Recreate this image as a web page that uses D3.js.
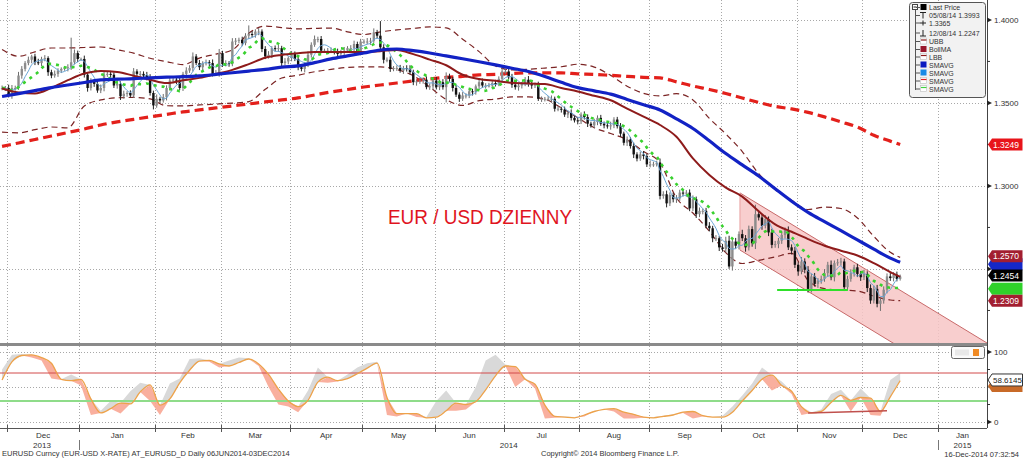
<!DOCTYPE html>
<html><head><meta charset="utf-8">
<script src="https://cdn.jsdelivr.net/npm/d3@7"></script>
<style>
body{margin:0;background:#fff;}
svg{display:block;font-family:"Liberation Sans",Arial,sans-serif;}
</style></head><body>
<svg id="c" width="1023" height="462"></svg>
<script>
// ---------------- DATA ----------------
const startDate = "2013-11-28"; // first trading day shown (weekday calendar)
// daily closes EURUSD (one per weekday)
const closes = [
1.3590,1.3590,1.3545,1.3590,1.3590,1.3665,1.3705,1.3740,1.3760,1.3780,
1.3745,1.3740,1.3765,1.3770,1.3685,1.3665,1.3675,1.3695,1.3705,1.3710,
1.3715,1.3745,1.3800,1.3765,1.3765,1.3670,1.3590,1.3630,1.3615,1.3575,
1.3590,1.3670,1.3675,1.3670,1.3605,1.3615,1.3540,1.3555,1.3560,1.3545,
1.3690,1.3675,1.3675,1.3665,1.3655,1.3560,1.3485,1.3525,1.3515,1.3535,
1.3590,1.3635,1.3640,1.3635,1.3590,1.3675,1.3695,1.3710,1.3780,1.3740,
1.3715,1.3740,1.3745,1.3740,1.3675,1.3680,1.3800,1.3735,1.3740,1.3735,
1.3870,1.3875,1.3880,1.3860,1.3905,1.3915,1.3910,1.3930,1.3930,1.3825,
1.3780,1.3790,1.3830,1.3825,1.3830,1.3740,1.3750,1.3770,1.3795,1.3765,
1.3715,1.3705,1.3730,1.3790,1.3850,1.3885,1.3885,1.3815,1.3815,1.3815,
1.3815,1.3810,1.3795,1.3805,1.3815,1.3830,1.3830,1.3855,1.3805,1.3870,
1.3870,1.3870,1.3875,1.3925,1.3905,1.3835,1.3760,1.3760,1.3705,1.3710,
1.3710,1.3695,1.3710,1.3705,1.3685,1.3625,1.3630,1.3635,1.3640,1.3595,
1.3600,1.3635,1.3595,1.3625,1.3595,1.3660,1.3645,1.3590,1.3550,1.3525,
1.3545,1.3545,1.3570,1.3565,1.3600,1.3625,1.3605,1.3605,1.3605,1.3620,
1.3615,1.3645,1.3690,1.3690,1.3655,1.3610,1.3595,1.3605,1.3615,1.3640,
1.3615,1.3605,1.3610,1.3525,1.3525,1.3525,1.3525,1.3525,1.3465,1.3465,
1.3460,1.3430,1.3440,1.3410,1.3395,1.3390,1.3430,1.3415,1.3375,1.3365,
1.3385,1.3410,1.3375,1.3365,1.3360,1.3365,1.3400,1.3360,1.3315,1.3260,
1.3280,1.3240,1.3190,1.3165,1.3190,1.3180,1.3130,1.3130,1.3130,1.3140,
1.2940,1.2950,1.2895,1.2945,1.2920,1.2925,1.2960,1.2955,1.2960,1.2865,
1.2920,1.2830,1.2850,1.2850,1.2760,1.2745,1.2685,1.2685,1.2630,1.2620,
1.2670,1.2515,1.2665,1.2640,1.2710,1.2685,1.2630,1.2740,1.2655,1.2830,
1.2810,1.2760,1.2800,1.2720,1.2645,1.2650,1.2670,1.2705,1.2735,1.2630,
1.2610,1.2525,1.2485,1.2545,1.2495,1.2380,1.2455,1.2410,1.2430,1.2440,
1.2475,1.2525,1.2450,1.2535,1.2540,1.2545,1.2390,1.2440,1.2475,1.2510,
1.2470,1.2450,1.2470,1.2385,1.2310,1.2380,1.2290,1.2310,1.2375,1.2455,
1.2445,1.2465,1.2440,1.2454];
// upper / lower wick length beyond the body, in pips
const upperWickPips = [
15,12,20,18,14,22,17,12,19,10,16,21,13,18,11,15,20,14,9,12,
18,148,22,15,8,20,14,19,13,17,21,16,12,18,14,23,15,19,11,16,
20,13,17,15,22,18,14,26,12,19,16,21,13,18,15,12,20,17,24,14,
19,11,16,13,22,18,25,14,17,12,20,16,13,19,15,52,18,14,21,13,
17,22,12,16,19,14,20,11,18,15,23,13,17,20,15,21,14,18,12,16,
19,13,17,15,22,12,18,20,14,16,13,21,17,24,15,88,18,14,20,12,
16,19,13,17,22,15,11,18,14,20,17,13,21,15,18,24,16,12,19,14,
20,13,17,15,11,18,22,14,16,12,19,15,21,13,17,20,14,18,12,16,
22,15,13,18,14,11,17,20,13,16,12,18,15,21,14,17,13,19,16,12,
20,15,18,13,17,22,14,16,19,12,18,15,21,13,17,20,14,24,16,12,
25,18,22,16,14,20,17,21,15,19,23,16,20,14,18,22,15,19,13,21,
24,30,18,22,16,26,19,21,17,57,20,18,25,16,22,19,17,24,15,21,
18,23,16,27,19,22,17,21,15,20,24,18,26,16,20,22,17,19,23,15,
21,18,25,16,22,19,24,17,20,18,22,16,19,12];
const lowerWickPips = [
14,18,12,20,16,11,19,15,13,21,17,12,19,14,22,16,13,18,15,11,
20,16,13,19,12,17,22,15,18,14,16,20,13,17,15,19,22,14,18,12,
15,21,17,13,19,16,24,14,18,13,20,15,17,22,13,18,16,14,21,12,
17,19,14,20,16,13,22,18,15,17,14,21,16,18,13,20,15,17,22,19,
16,13,20,15,18,21,14,17,19,13,18,15,21,14,17,12,20,16,13,19,
15,18,13,17,21,14,16,19,12,18,14,17,20,13,16,19,22,15,18,14,
17,13,20,16,14,18,21,15,19,13,16,20,14,18,15,92,17,21,14,19,
13,18,16,20,15,17,14,19,12,18,16,14,20,17,13,19,15,21,18,14,
17,20,15,13,19,16,14,22,17,15,18,14,21,16,13,19,17,15,20,14,
16,19,13,18,15,21,17,14,20,16,19,15,22,17,14,20,16,18,15,13,
21,17,24,16,19,22,15,18,20,17,16,23,18,21,15,19,24,17,22,16,
20,14,25,18,22,17,26,19,21,35,18,24,16,22,20,17,25,19,21,16,
23,19,26,17,21,22,22,16,24,19,17,22,18,25,16,20,23,19,17,21,
19,22,17,24,20,18,21,43,19,22,17,20,15,10];
// indicator lines read every 5 trading days (day 0,5,...,270) plus last day 273
const sma200 = [1.3238,1.3259,1.3280,1.3301,1.3322,1.3343,1.3367,1.3386,1.3401,1.3416,
1.3431,1.3446,1.3458,1.3470,1.3482,1.3494,1.3506,1.3518,1.3530,1.3548,
1.3566,1.3581,1.3596,1.3608,1.3620,1.3633,1.3645,1.3654,1.3660,1.3669,
1.3672,1.3678,1.3681,1.3681,1.3681,1.3675,1.3672,1.3666,1.3660,1.3654,
1.3651,1.3627,1.3602,1.3581,1.3557,1.3530,1.3503,1.3479,1.3464,1.3443,
1.3416,1.3386,1.3355,1.3305,1.3270,1.3249];
const sma50 = [1.3539,1.3556,1.3574,1.3592,1.3608,1.3623,1.3639,1.3643,1.3646,1.3651,
1.3655,1.3658,1.3663,1.3672,1.3682,1.3692,1.3702,1.3716,1.3723,1.3743,
1.3765,1.3783,1.3801,1.3819,1.3825,1.3815,1.3801,1.3783,1.3766,1.3748,
1.3729,1.3709,1.3689,1.3659,1.3624,1.3592,1.3573,1.3553,1.3521,1.3489,
1.3458,1.3404,1.3346,1.3272,1.3195,1.3127,1.3060,1.2983,1.2908,1.2841,
1.2785,1.2731,1.2675,1.2619,1.2565,1.2540];
const bollMA = [1.3587,1.3563,1.3557,1.3591,1.3637,1.3677,1.3693,1.3687,1.3664,1.3640,
1.3620,1.3636,1.3651,1.3674,1.3699,1.3734,1.3772,1.3789,1.3799,1.3807,
1.3807,1.3807,1.3807,1.3812,1.3819,1.3794,1.3761,1.3727,1.3670,1.3644,
1.3633,1.3621,1.3617,1.3614,1.3590,1.3569,1.3543,1.3516,1.3466,1.3417,
1.3367,1.3296,1.3166,1.3066,1.2990,1.2936,1.2847,1.2769,1.2724,1.2680,
1.2640,1.2610,1.2581,1.2535,1.2481,1.2452];
const upperBB = [1.3822,1.3781,1.3808,1.3831,1.3831,1.3834,1.3837,1.3820,1.3800,1.3769,
1.3749,1.3731,1.3770,1.3794,1.3819,1.3920,1.3963,1.3954,1.3946,1.3949,
1.3951,1.3928,1.3912,1.3928,1.3940,1.3949,1.3958,1.3952,1.3884,1.3809,
1.3723,1.3699,1.3703,1.3710,1.3718,1.3733,1.3716,1.3666,1.3601,1.3558,
1.3542,1.3556,1.3518,1.3407,1.3313,1.3207,1.3074,1.2979,1.2914,1.2858,
1.2872,1.2864,1.2807,1.2696,1.2600,1.2570];
const lowerBB = [1.3324,1.3320,1.3339,1.3355,1.3350,1.3482,1.3518,1.3531,1.3533,1.3524,
1.3483,1.3482,1.3488,1.3493,1.3499,1.3508,1.3582,1.3650,1.3667,1.3688,
1.3702,1.3714,1.3717,1.3717,1.3701,1.3664,1.3595,1.3521,1.3485,1.3514,
1.3523,1.3536,1.3536,1.3523,1.3470,1.3411,1.3351,1.3316,1.3277,1.3207,
1.3139,1.2928,1.2837,1.2727,1.2598,1.2533,1.2552,1.2572,1.2594,1.2431,
1.2381,1.2373,1.2367,1.2337,1.2313,1.2309];
// oscillator (lower panel), read every 3 trading days (day 0,3,...,273)
const oscSlow = [60,86,95,96,92,84,61,59,61,33,13,19,27,26,43,53,24,33,56,74,
87,88,83,80,85,90,83,68,47,30,22,31,57,64,59,62,69,77,84,35,
12,12,12,6,7,16,27,25,29,46,66,80,79,61,54,24,8,7,6,10,
15,18,19,14,11,7,6,8,10,14,15,9,7,7,14,30,45,61,67,52,
44,22,13,15,28,38,31,35,34,15,36,59];
const oscFast = [75,96,97,92,88,62,60,68,52,10,16,30,12,44,56,30,10,55,62,90,
91,86,78,88,92,91,80,50,25,22,14,45,78,56,58,68,78,84,86,10,
8,12,7,7,30,45,16,18,50,88,96,82,50,63,48,5,6,8,7,8,
16,18,15,5,5,6,7,9,11,13,5,8,7,9,22,38,55,78,45,58,
40,10,14,18,40,46,15,48,10,9,60,70];
const oscLevels = [70, 30];
const oscLast = 58.6145;
// drawn annotations: [day, price]
const channelTop = [[224.3, 1.2958], [299.4, 1.2054]];
const channelBottom = [[224.3, 1.2614], [299.4, 1.1710]];
const supportLine = [[235.6, 1.2373], [257.1, 1.2373]];
const oscTrend = [[245, 13], [269, 16]];
const priceTicks = [1.40, 1.35, 1.30, 1.25];
const priceMinor = [1.375, 1.325, 1.275, 1.225];
const oscTicks = [100, 50, 0];
const legendRows = ["Last Price","05/08/14 1.3993","1.3365","12/08/14 1.2247","UBB","BollMA","LBB","SMAVG","SMAVG","SMAVG","SMAVG"];
const title = "EUR / USD DZIENNY";
const footLeft = "EURUSD Curncy (EUR-USD X-RATE) AT_EURUSD_D  Daily 06JUN2014-03DEC2014";
const footMid = "Copyright\u00A9 2014 Bloomberg Finance L.P.";
const footRight = "16-Dec-2014 07:32:54";
const monthNames = ["Jan","Feb","Mar","Apr","May","Jun","Jul","Aug","Sep","Oct","Nov","Dec"];

// ---------------- LAYOUT ----------------
const svg = d3.select("#c");
const PR = 987, MT = 0, MB = 343, LT = 346, LB = 428;
const days = [];
{ let d = new Date(startDate + "T00:00:00Z");
  while (days.length < 320) { const w = d.getUTCDay(); if (w !== 0 && w !== 6) days.push(new Date(d)); d = new Date(d.getTime() + 864e5); } }
const mStarts = [];
days.forEach((t, i) => { if (i > 0 && t.getUTCMonth() !== days[i-1].getUTCMonth()) mStarts.push({i, t}); });
const jan15 = mStarts.find(m => m.t.getUTCFullYear() === 2015);
const x = d3.scaleLinear().domain([mStarts[0].i - 0.5, jan15.i - 0.5]).range([7, 938]);
const y = d3.scaleLinear().domain([1.2054, 1.412]).range([MB, MT]);
const yo = d3.scaleLinear().domain([0, 100]).range([422, 352]);
const last = a => a[a.length - 1];

const defs = svg.append("defs");
defs.append("clipPath").attr("id", "cm").append("rect").attr("x", 0).attr("y", MT).attr("width", PR).attr("height", MB - MT);
defs.append("clipPath").attr("id", "cl").append("rect").attr("x", 0).attr("y", LT).attr("width", PR).attr("height", LB - LT);

// grid
const grid = svg.append("g").attr("stroke", "#a8a8a8").attr("stroke-dasharray", "1,2").attr("stroke-width", 1);
mStarts.filter(m => x(m.i - 0.5) < PR).forEach(m => {
  const xx = Math.round(x(m.i - 0.5)) + 0.5;
  grid.append("line").attr("x1", xx).attr("x2", xx).attr("y1", MT).attr("y2", MB);
  grid.append("line").attr("x1", xx).attr("x2", xx).attr("y1", LT).attr("y2", LB);
});
priceTicks.forEach(p => grid.append("line").attr("x1", 0).attr("x2", PR).attr("y1", Math.round(y(p)) + 0.5).attr("y2", Math.round(y(p)) + 0.5));
oscTicks.forEach(v => grid.append("line").attr("x1", 0).attr("x2", PR).attr("y1", Math.round(yo(v)) + 0.5).attr("y2", Math.round(yo(v)) + 0.5));

// ---------- main panel ----------
const main = svg.append("g").attr("clip-path", "url(#cm)");
const chPoly = channelTop.concat(channelBottom.slice().reverse());
main.append("path").attr("d", "M" + chPoly.map(p => [x(p[0]), y(p[1])].join(",")).join("L") + "Z")
  .attr("fill", "#f7c6c6").attr("fill-opacity", 0.85).attr("stroke", "none");
[channelTop, channelBottom].forEach(l => main.append("line").attr("x1", x(l[0][0])).attr("y1", y(l[0][1])).attr("x2", x(l[1][0])).attr("y2", y(l[1][1])).attr("stroke", "#c86a6a").attr("stroke-width", 1));
main.append("line").attr("x1", x(channelTop[0][0])).attr("y1", y(channelTop[0][1])).attr("x2", x(channelBottom[0][0])).attr("y2", y(channelBottom[0][1])).attr("stroke", "#e8a0a0").attr("stroke-width", 1);

const maDays = d3.range(0, 271, 5).concat([273]);
const lineFrom = (arr, idx) => d3.line().curve(d3.curveMonotoneX).x((d, k) => x(idx[k])).y(d => y(d))(arr);
[upperBB, lowerBB].forEach(a => main.append("path").attr("d", lineFrom(a, maDays)).attr("fill", "none").attr("stroke", "#7b2424").attr("stroke-width", 1.2).attr("stroke-dasharray", "6,4"));
main.append("path").attr("d", lineFrom(sma200, maDays)).attr("fill", "none").attr("stroke", "#e3201b").attr("stroke-width", 3.2).attr("stroke-dasharray", "9,5");

// candles
const cg = main.append("g");
closes.forEach((c, i) => {
  const o = i > 0 ? closes[i-1] : c;
  const hi = Math.max(o, c) + upperWickPips[i] / 10000, lo = Math.min(o, c) - lowerWickPips[i] / 10000;
  const up = c >= o;
  const xc = x(i);
  cg.append("line").attr("x1", xc).attr("x2", xc).attr("y1", y(hi)).attr("y2", y(lo)).attr("stroke", up ? "#6e6e6e" : "#222").attr("stroke-width", 1);
  const yt = y(Math.max(o, c)), yb = y(Math.min(o, c));
  cg.append("rect").attr("x", xc - 1.2).attr("width", 2.4).attr("y", yt).attr("height", Math.max(1, yb - yt)).attr("fill", up ? "#8c8c8c" : "#111");
});
// short SMAs computed from closes
const sma = n => closes.map((c, i) => d3.mean(closes.slice(Math.max(0, i - n + 1), i + 1)));
const sma5 = sma(5), sma10 = sma(10);
const dline = d3.line().curve(d3.curveMonotoneX).x((d, i) => x(i)).y(d => y(d));
main.append("path").attr("d", dline(sma5)).attr("fill", "none").attr("stroke", "#6aa6d6").attr("stroke-width", 1);
main.append("path").attr("d", dline(sma10)).attr("fill", "none").attr("stroke", "#39d12f").attr("stroke-width", 2.6).attr("stroke-dasharray", "3,5");
main.append("path").attr("d", lineFrom(bollMA, maDays)).attr("fill", "none").attr("stroke", "#8e1b1b").attr("stroke-width", 2);
main.append("path").attr("d", lineFrom(sma50, maDays)).attr("fill", "none").attr("stroke", "#1222c4").attr("stroke-width", 3.2);
main.append("line").attr("x1", x(supportLine[0][0])).attr("x2", x(supportLine[1][0])).attr("y1", y(supportLine[0][1])).attr("y2", y(supportLine[1][1])).attr("stroke", "#2fe02a").attr("stroke-width", 2);

svg.append("text").attr("x", 388).attr("y", 224).attr("fill", "#e0141e").attr("font-size", 21).attr("textLength", 184).attr("lengthAdjust", "spacingAndGlyphs").text(title);

// ---------- lower panel ----------
const low = svg.append("g").attr("clip-path", "url(#cl)");
const oscDays = d3.range(0, 274, 3);
const pts = oscSlow.map((v, k) => ({d: oscDays[k], s: v, f: oscFast[k]}));
low.append("path").attr("d", d3.area().x(p => x(p.d)).y0(p => yo(p.s)).y1(p => yo(Math.max(p.s, p.f)))(pts)).attr("fill", "#d9d9d9");
low.append("path").attr("d", d3.area().x(p => x(p.d)).y0(p => yo(p.s)).y1(p => yo(Math.min(p.s, p.f)))(pts)).attr("fill", "#f8a693").attr("fill-opacity", 0.9);
low.append("line").attr("x1", 0).attr("x2", PR).attr("y1", yo(oscLevels[0])).attr("y2", yo(oscLevels[0])).attr("stroke", "#d24a4a").attr("stroke-width", 1);
low.append("line").attr("x1", 0).attr("x2", PR).attr("y1", yo(oscLevels[1])).attr("y2", yo(oscLevels[1])).attr("stroke", "#8fdc8a").attr("stroke-width", 2);
low.append("path").attr("d", d3.line().curve(d3.curveMonotoneX).x(p => x(p.d)).y(p => yo(p.s))(pts)).attr("fill", "none").attr("stroke", "#eda24a").attr("stroke-width", 1.3);
low.append("line").attr("x1", x(oscTrend[0][0])).attr("x2", x(oscTrend[1][0])).attr("y1", yo(oscTrend[0][1])).attr("y2", yo(oscTrend[1][1])).attr("stroke", "#c0504d").attr("stroke-width", 1.5);

// separators / axes
svg.append("rect").attr("x", 0).attr("y", MB).attr("width", PR).attr("height", 3).attr("fill", "#8a8a8a");
svg.append("line").attr("x1", PR + 0.5).attr("x2", PR + 0.5).attr("y1", 0).attr("y2", LB).attr("stroke", "#444");
svg.append("line").attr("x1", 0).attr("x2", PR).attr("y1", LB + 0.5).attr("y2", LB + 0.5).attr("stroke", "#555");
const ax = svg.append("g").attr("font-size", 8).attr("fill", "#333");
const tri = yy => `M${PR},${yy - 2.5}L${PR + 5},${yy}L${PR},${yy + 2.5}Z`;
// flag positions, used to leave out axis labels that the flags cover (as in the reference)
const flagYs = [y(last(sma200)), y(last(sma50)) + 2, y(last(upperBB)) - 1, y(last(sma10)) + 2, y(last(closes)) - 1, y(last(lowerBB))];
priceTicks.forEach(p => { const yy = y(p);
  ax.append("path").attr("d", tri(yy)).attr("fill", "#222");
  if (!flagYs.some(f => Math.abs(f - yy) < 12)) ax.append("text").attr("x", PR + 7).attr("y", yy + 3).text(p.toFixed(4)); });
priceMinor.forEach(p => ax.append("line").attr("x1", PR).attr("x2", PR + 3).attr("y1", y(p)).attr("y2", y(p)).attr("stroke", "#333"));
[100, 0].forEach(v => { const yy = yo(v);
  ax.append("path").attr("d", tri(yy)).attr("fill", "#222");
  ax.append("text").attr("x", PR + 7).attr("y", yy + 3).text(v); });
[75, 50, 25].forEach(v => ax.append("line").attr("x1", PR).attr("x2", PR + 3).attr("y1", yo(v)).attr("y2", yo(v)).attr("stroke", "#333"));

// month ticks & labels
mStarts.filter(m => x(m.i - 0.5) < PR + 1).forEach(m => {
  const x0 = x(m.i - 0.5);
  const nxt = mStarts[mStarts.indexOf(m) + 1];
  const x1 = Math.min(x(nxt.i - 0.5), PR);
  ax.append("line").attr("x1", Math.round(x0) + 0.5).attr("x2", Math.round(x0) + 0.5).attr("y1", LB - 3).attr("y2", LB + 4).attr("stroke", "#555");
  ax.append("text").attr("x", (x0 + x1) / 2).attr("y", 438).attr("text-anchor", "middle").text(monthNames[m.t.getUTCMonth()]);
});
const yearLabels = [{t: "2013", a: 0, b: x(mStarts[1].i - 0.5)}, {t: "2014", a: x(mStarts[1].i - 0.5), b: x(jan15.i - 0.5)}, {t: "2015", a: x(jan15.i - 0.5), b: PR}];
yearLabels.forEach(yl => ax.append("text").attr("x", yl.t === "2013" ? 42 : (yl.a + yl.b) / 2).attr("y", 448).attr("text-anchor", "middle").text(yl.t));
[mStarts[1], jan15].forEach(m => { const xx = Math.round(x(m.i - 0.5)) + 0.5; ax.append("line").attr("x1", xx).attr("x2", xx).attr("y1", 440).attr("y2", 450).attr("stroke", "#777"); });
ax.append("text").attr("x", 2).attr("y", 456).attr("font-size", 7.5).text(footLeft);
ax.append("text").attr("x", 541).attr("y", 456).attr("font-size", 7.5).text(footMid);
ax.append("text").attr("x", 1019).attr("y", 457).attr("font-size", 7.5).attr("text-anchor", "end").text(footRight);

// value flags (hidden ones have no text, like in the reference where they sit under others)
function flag(val, yy, bg, fg, stroke, fs) {
  const g = svg.append("g");
  g.append("path").attr("d", `M${PR + 1},${yy}L${PR + 5},${yy - 6}H1022.5V${yy + 6}H${PR + 5}Z`).attr("fill", bg).attr("stroke", stroke || "none");
  if (val) g.append("text").attr("x", PR + 6).attr("y", yy + 3).attr("font-size", fs || 8.5).attr("fill", fg).text(val);
}
flag(last(sma200).toFixed(4), flagYs[0], "#e8141a", "#fff");
flag("", flagYs[1], "#1428c8", "#fff");
flag(last(upperBB).toFixed(4), flagYs[2], "#a21e30", "#fff");
flag("", flagYs[3], "#2fd12a", "#fff");
flag(last(closes).toFixed(4), flagYs[4], "#000", "#fff");
flag(last(lowerBB).toFixed(4), flagYs[5], "#a21e30", "#fff");
flag("", yo(oscLast) + 5, "#c86a28", "#fff");
flag(oscLast.toFixed(4), yo(oscLast) - 1, "#fff", "#222", "#333", 8);

// legend (top right)
const lg = svg.append("g").attr("font-size", 7).attr("fill", "#333");
lg.append("rect").attr("x", 909.5).attr("y", 2.5).attr("width", 76).attr("height", 95).attr("rx", 3).attr("fill", "#f2f2f2").attr("stroke", "#555");
lg.append("line").attr("x1", 915.5).attr("x2", 915.5).attr("y1", 10).attr("y2", 90).attr("stroke", "#555");
lg.append("rect").attr("x", 912.5).attr("y", 4.5).attr("width", 5).attr("height", 5).attr("fill", "#fff").attr("stroke", "#444");
lg.append("line").attr("x1", 913.5).attr("x2", 916.5).attr("y1", 7).attr("y2", 7).attr("stroke", "#222");
const rowY = [7.5, 15.5, 23, 33, 41.5, 49.5, 57, 65, 73, 81, 89];
const icons = ["#000", "T", "+", "L", "dash#8b1a1a", "#98162a", "dash#8b1a1a", "#0a1ac0", "#1a8ae6", "dash#e02020", "dot#40d040"];
legendRows.forEach((t, k) => {
  const yy = rowY[k];
  lg.append("line").attr("x1", 916).attr("x2", 920).attr("y1", yy).attr("y2", yy).attr("stroke", "#555");
  const ic = icons[k];
  if (ic === "T") lg.append("path").attr("d", `M920,${yy-3}H926M923,${yy-3}V${yy+3}`).attr("stroke", "#222").attr("fill", "none");
  else if (ic === "+") lg.append("path").attr("d", `M920,${yy}H926M923,${yy-2.5}V${yy+2.5}`).attr("stroke", "#222").attr("fill", "none");
  else if (ic === "L") lg.append("path").attr("d", `M920,${yy+3}H926M923,${yy-3}V${yy+3}`).attr("stroke", "#222").attr("fill", "none");
  else if (ic.startsWith("dash") || ic.startsWith("dot")) {
    const c = ic.replace(/^(dash|dot)/, "");
    lg.append("rect").attr("x", 920.5).attr("y", yy - 3.5).attr("width", 6).attr("height", 6).attr("fill", "#fff").attr("stroke", "#bbb").attr("stroke-width", 0.6);
    lg.append("line").attr("x1", 921).attr("x2", 926.5).attr("y1", yy - 1.5).attr("y2", yy - 1.5).attr("stroke", c).attr("stroke-width", 1.2);
  } else lg.append("rect").attr("x", 920.5).attr("y", yy - 3.5).attr("width", 6).attr("height", 6).attr("fill", ic);
  lg.append("text").attr("x", 929).attr("y", yy + 2.5).text(t);
});
svg.append("rect").attr("x", 951.5).attr("y", 346.5).attr("width", 33).attr("height", 12).attr("rx", 2).attr("fill", "#fafafa").attr("stroke", "#666");
svg.append("rect").attr("x", 955).attr("y", 349.5).attr("width", 14).attr("height", 6).attr("fill", "#e8e8e8");
svg.append("rect").attr("x", 973).attr("y", 349).attr("width", 6).attr("height", 7).attr("fill", "#f08a24");
</script>
</body></html>
